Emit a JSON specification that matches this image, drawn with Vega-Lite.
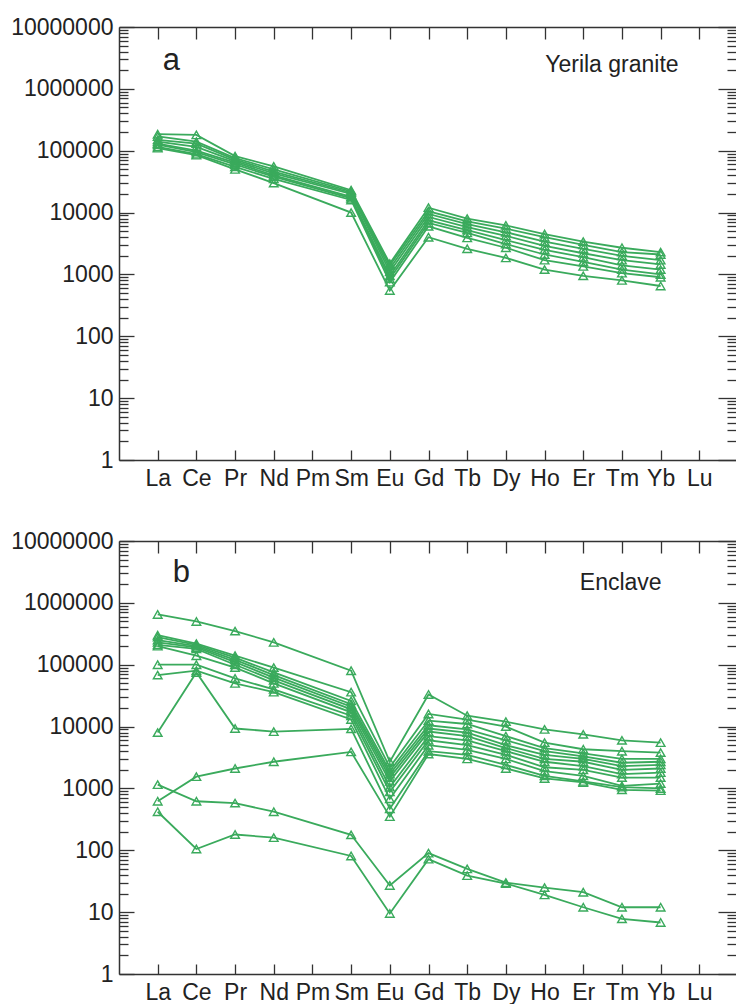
{
  "$schema": "https://vega.github.io/schema/vega-lite/v6.json",
  "autosize": {"type": "pad"},
  "padding": {"left": 10, "top": 16, "right": 0, "bottom": 0},
  "background": "white",
  "spacing": 40,
  "config": {
    "view": {"stroke": null},
    "font": "Liberation Sans",
    "axis": {"domainColor": "#333333", "domainWidth": 1.5, "tickColor": "#333333", "tickWidth": 1.3, "labelFont": "Liberation Sans", "labelFontSize": 23, "labelColor": "#222222", "grid": false, "title": null}
  },
  "datasets": {
    "a": [
      {"s":"a1","e":"La","v":185000},{"s":"a1","e":"Ce","v":180000},{"s":"a1","e":"Pr","v":82000},{"s":"a1","e":"Nd","v":56000},{"s":"a1","e":"Sm","v":23000},{"s":"a1","e":"Eu","v":1500},{"s":"a1","e":"Gd","v":12000},{"s":"a1","e":"Tb","v":8000},{"s":"a1","e":"Dy","v":6200},{"s":"a1","e":"Ho","v":4500},{"s":"a1","e":"Er","v":3400},{"s":"a1","e":"Tm","v":2700},{"s":"a1","e":"Yb","v":2300},
      {"s":"a2","e":"La","v":170000},{"s":"a2","e":"Ce","v":140000},{"s":"a2","e":"Pr","v":76000},{"s":"a2","e":"Nd","v":50000},{"s":"a2","e":"Sm","v":22000},{"s":"a2","e":"Eu","v":1400},{"s":"a2","e":"Gd","v":10500},{"s":"a2","e":"Tb","v":7200},{"s":"a2","e":"Dy","v":5500},{"s":"a2","e":"Ho","v":4000},{"s":"a2","e":"Er","v":3000},{"s":"a2","e":"Tm","v":2300},{"s":"a2","e":"Yb","v":2100},
      {"s":"a3","e":"La","v":150000},{"s":"a3","e":"Ce","v":130000},{"s":"a3","e":"Pr","v":72000},{"s":"a3","e":"Nd","v":46000},{"s":"a3","e":"Sm","v":21000},{"s":"a3","e":"Eu","v":1250},{"s":"a3","e":"Gd","v":9500},{"s":"a3","e":"Tb","v":6500},{"s":"a3","e":"Dy","v":4800},{"s":"a3","e":"Ho","v":3400},{"s":"a3","e":"Er","v":2600},{"s":"a3","e":"Tm","v":2000},{"s":"a3","e":"Yb","v":1700},
      {"s":"a4","e":"La","v":140000},{"s":"a4","e":"Ce","v":115000},{"s":"a4","e":"Pr","v":68000},{"s":"a4","e":"Nd","v":43000},{"s":"a4","e":"Sm","v":20000},{"s":"a4","e":"Eu","v":1100},{"s":"a4","e":"Gd","v":8500},{"s":"a4","e":"Tb","v":5800},{"s":"a4","e":"Dy","v":4200},{"s":"a4","e":"Ho","v":2900},{"s":"a4","e":"Er","v":2200},{"s":"a4","e":"Tm","v":1700},{"s":"a4","e":"Yb","v":1450},
      {"s":"a5","e":"La","v":130000},{"s":"a5","e":"Ce","v":100000},{"s":"a5","e":"Pr","v":64000},{"s":"a5","e":"Nd","v":40000},{"s":"a5","e":"Sm","v":18000},{"s":"a5","e":"Eu","v":950},{"s":"a5","e":"Gd","v":7500},{"s":"a5","e":"Tb","v":5200},{"s":"a5","e":"Dy","v":3600},{"s":"a5","e":"Ho","v":2500},{"s":"a5","e":"Er","v":1900},{"s":"a5","e":"Tm","v":1400},{"s":"a5","e":"Yb","v":1200},
      {"s":"a6","e":"La","v":125000},{"s":"a6","e":"Ce","v":95000},{"s":"a6","e":"Pr","v":60000},{"s":"a6","e":"Nd","v":38000},{"s":"a6","e":"Sm","v":17000},{"s":"a6","e":"Eu","v":850},{"s":"a6","e":"Gd","v":6800},{"s":"a6","e":"Tb","v":4700},{"s":"a6","e":"Dy","v":3100},{"s":"a6","e":"Ho","v":2100},{"s":"a6","e":"Er","v":1600},{"s":"a6","e":"Tm","v":1200},{"s":"a6","e":"Yb","v":1000},
      {"s":"a7","e":"La","v":115000},{"s":"a7","e":"Ce","v":88000},{"s":"a7","e":"Pr","v":55000},{"s":"a7","e":"Nd","v":35000},{"s":"a7","e":"Sm","v":16000},{"s":"a7","e":"Eu","v":750},{"s":"a7","e":"Gd","v":6000},{"s":"a7","e":"Tb","v":3900},{"s":"a7","e":"Dy","v":2700},{"s":"a7","e":"Ho","v":1700},{"s":"a7","e":"Er","v":1350},{"s":"a7","e":"Tm","v":1050},{"s":"a7","e":"Yb","v":900},
      {"s":"a8","e":"La","v":110000},{"s":"a8","e":"Ce","v":85000},{"s":"a8","e":"Pr","v":50000},{"s":"a8","e":"Nd","v":30000},{"s":"a8","e":"Sm","v":10000},{"s":"a8","e":"Eu","v":550},{"s":"a8","e":"Gd","v":4000},{"s":"a8","e":"Tb","v":2600},{"s":"a8","e":"Dy","v":1850},{"s":"a8","e":"Ho","v":1200},{"s":"a8","e":"Er","v":950},{"s":"a8","e":"Tm","v":800},{"s":"a8","e":"Yb","v":650}
    ],
    "b": [
      {"s":"b1","e":"La","v":650000},{"s":"b1","e":"Ce","v":500000},{"s":"b1","e":"Pr","v":350000},{"s":"b1","e":"Nd","v":230000},{"s":"b1","e":"Sm","v":80000},{"s":"b1","e":"Eu","v":2700},{"s":"b1","e":"Gd","v":33000},{"s":"b1","e":"Tb","v":15000},{"s":"b1","e":"Dy","v":12000},{"s":"b1","e":"Ho","v":9000},{"s":"b1","e":"Er","v":7500},{"s":"b1","e":"Tm","v":6000},{"s":"b1","e":"Yb","v":5500},
      {"s":"b2","e":"La","v":300000},{"s":"b2","e":"Ce","v":220000},{"s":"b2","e":"Pr","v":140000},{"s":"b2","e":"Nd","v":90000},{"s":"b2","e":"Sm","v":36000},{"s":"b2","e":"Eu","v":2200},{"s":"b2","e":"Gd","v":16000},{"s":"b2","e":"Tb","v":13000},{"s":"b2","e":"Dy","v":10000},{"s":"b2","e":"Ho","v":5500},{"s":"b2","e":"Er","v":4300},{"s":"b2","e":"Tm","v":4000},{"s":"b2","e":"Yb","v":3800},
      {"s":"b3","e":"La","v":280000},{"s":"b3","e":"Ce","v":210000},{"s":"b3","e":"Pr","v":130000},{"s":"b3","e":"Nd","v":75000},{"s":"b3","e":"Sm","v":26000},{"s":"b3","e":"Eu","v":1900},{"s":"b3","e":"Gd","v":12500},{"s":"b3","e":"Tb","v":11000},{"s":"b3","e":"Dy","v":7000},{"s":"b3","e":"Ho","v":4500},{"s":"b3","e":"Er","v":3700},{"s":"b3","e":"Tm","v":3000},{"s":"b3","e":"Yb","v":3000},
      {"s":"b4","e":"La","v":250000},{"s":"b4","e":"Ce","v":200000},{"s":"b4","e":"Pr","v":120000},{"s":"b4","e":"Nd","v":68000},{"s":"b4","e":"Sm","v":23000},{"s":"b4","e":"Eu","v":1700},{"s":"b4","e":"Gd","v":10500},{"s":"b4","e":"Tb","v":9000},{"s":"b4","e":"Dy","v":6000},{"s":"b4","e":"Ho","v":4000},{"s":"b4","e":"Er","v":3300},{"s":"b4","e":"Tm","v":2600},{"s":"b4","e":"Yb","v":2700},
      {"s":"b5","e":"La","v":230000},{"s":"b5","e":"Ce","v":190000},{"s":"b5","e":"Pr","v":110000},{"s":"b5","e":"Nd","v":62000},{"s":"b5","e":"Sm","v":21000},{"s":"b5","e":"Eu","v":1500},{"s":"b5","e":"Gd","v":9300},{"s":"b5","e":"Tb","v":8000},{"s":"b5","e":"Dy","v":5000},{"s":"b5","e":"Ho","v":3500},{"s":"b5","e":"Er","v":3000},{"s":"b5","e":"Tm","v":2300},{"s":"b5","e":"Yb","v":2400},
      {"s":"b6","e":"La","v":210000},{"s":"b6","e":"Ce","v":180000},{"s":"b6","e":"Pr","v":100000},{"s":"b6","e":"Nd","v":56000},{"s":"b6","e":"Sm","v":19000},{"s":"b6","e":"Eu","v":1300},{"s":"b6","e":"Gd","v":8300},{"s":"b6","e":"Tb","v":7000},{"s":"b6","e":"Dy","v":4500},{"s":"b6","e":"Ho","v":3000},{"s":"b6","e":"Er","v":2700},{"s":"b6","e":"Tm","v":2000},{"s":"b6","e":"Yb","v":2100},
      {"s":"b7","e":"La","v":200000},{"s":"b7","e":"Ce","v":140000},{"s":"b7","e":"Pr","v":90000},{"s":"b7","e":"Nd","v":50000},{"s":"b7","e":"Sm","v":17000},{"s":"b7","e":"Eu","v":1050},{"s":"b7","e":"Gd","v":7000},{"s":"b7","e":"Tb","v":6000},{"s":"b7","e":"Dy","v":4000},{"s":"b7","e":"Ho","v":2700},{"s":"b7","e":"Er","v":2300},{"s":"b7","e":"Tm","v":1700},{"s":"b7","e":"Yb","v":1800},
      {"s":"b8","e":"La","v":100000},{"s":"b8","e":"Ce","v":100000},{"s":"b8","e":"Pr","v":60000},{"s":"b8","e":"Nd","v":40000},{"s":"b8","e":"Sm","v":15000},{"s":"b8","e":"Eu","v":880},{"s":"b8","e":"Gd","v":6000},{"s":"b8","e":"Tb","v":5000},{"s":"b8","e":"Dy","v":3500},{"s":"b8","e":"Ho","v":2200},{"s":"b8","e":"Er","v":2000},{"s":"b8","e":"Tm","v":1500},{"s":"b8","e":"Yb","v":1500},
      {"s":"b9","e":"La","v":68000},{"s":"b9","e":"Ce","v":80000},{"s":"b9","e":"Pr","v":50000},{"s":"b9","e":"Nd","v":36000},{"s":"b9","e":"Sm","v":13000},{"s":"b9","e":"Eu","v":680},{"s":"b9","e":"Gd","v":5000},{"s":"b9","e":"Tb","v":4200},{"s":"b9","e":"Dy","v":3000},{"s":"b9","e":"Ho","v":1900},{"s":"b9","e":"Er","v":1600},{"s":"b9","e":"Tm","v":1100},{"s":"b9","e":"Yb","v":1200},
      {"s":"b10","e":"La","v":8000},{"s":"b10","e":"Ce","v":75000},{"s":"b10","e":"Pr","v":9300},{"s":"b10","e":"Nd","v":8300},{"s":"b10","e":"Sm","v":9200},{"s":"b10","e":"Eu","v":470},{"s":"b10","e":"Gd","v":4000},{"s":"b10","e":"Tb","v":3500},{"s":"b10","e":"Dy","v":2400},{"s":"b10","e":"Ho","v":1600},{"s":"b10","e":"Er","v":1300},{"s":"b10","e":"Tm","v":1050},{"s":"b10","e":"Yb","v":1000},
      {"s":"b11","e":"La","v":620},{"s":"b11","e":"Ce","v":1550},{"s":"b11","e":"Pr","v":2100},{"s":"b11","e":"Nd","v":2700},{"s":"b11","e":"Sm","v":3900},{"s":"b11","e":"Eu","v":350},{"s":"b11","e":"Gd","v":3600},{"s":"b11","e":"Tb","v":3000},{"s":"b11","e":"Dy","v":2100},{"s":"b11","e":"Ho","v":1450},{"s":"b11","e":"Er","v":1250},{"s":"b11","e":"Tm","v":950},{"s":"b11","e":"Yb","v":920},
      {"s":"b12","e":"La","v":1150},{"s":"b12","e":"Ce","v":620},{"s":"b12","e":"Pr","v":580},{"s":"b12","e":"Nd","v":420},{"s":"b12","e":"Sm","v":178},{"s":"b12","e":"Eu","v":27},{"s":"b12","e":"Gd","v":90},{"s":"b12","e":"Tb","v":50},{"s":"b12","e":"Dy","v":30},{"s":"b12","e":"Ho","v":25},{"s":"b12","e":"Er","v":21},{"s":"b12","e":"Tm","v":12},{"s":"b12","e":"Yb","v":12},
      {"s":"b13","e":"La","v":420},{"s":"b13","e":"Ce","v":105},{"s":"b13","e":"Pr","v":180},{"s":"b13","e":"Nd","v":160},{"s":"b13","e":"Sm","v":81},{"s":"b13","e":"Eu","v":9.5},{"s":"b13","e":"Gd","v":72},{"s":"b13","e":"Tb","v":39},{"s":"b13","e":"Dy","v":29},{"s":"b13","e":"Ho","v":19},{"s":"b13","e":"Er","v":12},{"s":"b13","e":"Tm","v":7.8},{"s":"b13","e":"Yb","v":6.8}
    ]
  },
  "vconcat": [
    {
      "width": 619,
      "height": 433,
      "layer": [
        {
          "data": {"name": "a"},
          "mark": {"type": "line", "color": "#3aaa5c", "strokeWidth": 1.8, "point": {"shape": "triangle-up", "filled": false, "size": 75, "strokeWidth": 1.4, "color": "#3aaa5c"}},
          "encoding": {
            "x": {"field": "e", "type": "ordinal", "sort": ["La","Ce","Pr","Nd","Pm","Sm","Eu","Gd","Tb","Dy","Ho","Er","Tm","Yb","Lu"], "scale": {"type": "point", "domain": ["La","Ce","Pr","Nd","Pm","Sm","Eu","Gd","Tb","Dy","Ho","Er","Tm","Yb","Lu"], "padding": 1}, "axis": {"orient": "bottom", "labelAngle": 0, "tickSize": -10, "labelPadding": 17}},
            "y": {"field": "v", "type": "quantitative", "scale": {"type": "log", "domain": [1, 10000000], "nice": false}, "axis": {"orient": "left", "values": [1,2,3,4,5,6,7,8,9,10,20,30,40,50,60,70,80,90,100,200,300,400,500,600,700,800,900,1000,2000,3000,4000,5000,6000,7000,8000,9000,10000,20000,30000,40000,50000,60000,70000,80000,90000,100000,200000,300000,400000,500000,600000,700000,800000,900000,1000000,2000000,3000000,4000000,5000000,6000000,7000000,8000000,9000000,10000000], "labelExpr": "abs(log(datum.value)/LN10 - round(log(datum.value)/LN10)) < 0.001 ? format(datum.value, 'd') : ''", "tickSize": {"condition": {"test": "abs(log(datum.value)/LN10 - round(log(datum.value)/LN10)) < 0.001", "value": -15}, "value": -9}, "labelPadding": 21}},
            "detail": {"field": "s"}
          }
        },
        {
          "data": {"values": [{"label": "a"}]},
          "mark": {"type": "text", "fontSize": 31, "align": "left", "baseline": "alphabetic", "dx": 5, "color": "#222222", "font": "Liberation Sans"},
          "encoding": {
            "x": {"datum": "La", "type": "ordinal", "scale": {"type": "point", "domain": ["La","Ce","Pr","Nd","Pm","Sm","Eu","Gd","Tb","Dy","Ho","Er","Tm","Yb","Lu"], "padding": 1}, "axis": {"orient": "top", "labels": false, "tickSize": -12}},
            "y": {"datum": 2000000, "type": "quantitative", "scale": {"type": "log", "domain": [1, 10000000], "nice": false}, "axis": {"orient": "right", "labels": false, "values": [1,2,3,4,5,6,7,8,9,10,20,30,40,50,60,70,80,90,100,200,300,400,500,600,700,800,900,1000,2000,3000,4000,5000,6000,7000,8000,9000,10000,20000,30000,40000,50000,60000,70000,80000,90000,100000,200000,300000,400000,500000,600000,700000,800000,900000,1000000,2000000,3000000,4000000,5000000,6000000,7000000,8000000,9000000,10000000], "tickSize": {"condition": {"test": "abs(log(datum.value)/LN10 - round(log(datum.value)/LN10)) < 0.001", "value": -20}, "value": -11}}},
            "text": {"field": "label"}
          }
        },
        {
          "data": {"values": [{"label": "Yerila granite"}]},
          "mark": {"type": "text", "fontSize": 23, "align": "right", "baseline": "alphabetic", "dx": 18, "color": "#222222", "font": "Liberation Sans"},
          "encoding": {
            "x": {"datum": "Yb", "type": "ordinal", "scale": {"type": "point", "domain": ["La","Ce","Pr","Nd","Pm","Sm","Eu","Gd","Tb","Dy","Ho","Er","Tm","Yb","Lu"], "padding": 1}, "axis": null},
            "y": {"datum": 1900000, "type": "quantitative", "scale": {"type": "log", "domain": [1, 10000000], "nice": false}, "axis": null},
            "text": {"field": "label"}
          }
        }
      ],
      "resolve": {"axis": {"x": "independent", "y": "independent"}}
    },
    {
      "width": 619,
      "height": 433,
      "layer": [
        {
          "data": {"name": "b"},
          "mark": {"type": "line", "color": "#3aaa5c", "strokeWidth": 1.8, "point": {"shape": "triangle-up", "filled": false, "size": 75, "strokeWidth": 1.4, "color": "#3aaa5c"}},
          "encoding": {
            "x": {"field": "e", "type": "ordinal", "sort": ["La","Ce","Pr","Nd","Pm","Sm","Eu","Gd","Tb","Dy","Ho","Er","Tm","Yb","Lu"], "scale": {"type": "point", "domain": ["La","Ce","Pr","Nd","Pm","Sm","Eu","Gd","Tb","Dy","Ho","Er","Tm","Yb","Lu"], "padding": 1}, "axis": {"orient": "bottom", "labelAngle": 0, "tickSize": -10, "labelPadding": 17}},
            "y": {"field": "v", "type": "quantitative", "scale": {"type": "log", "domain": [1, 10000000], "nice": false}, "axis": {"orient": "left", "values": [1,2,3,4,5,6,7,8,9,10,20,30,40,50,60,70,80,90,100,200,300,400,500,600,700,800,900,1000,2000,3000,4000,5000,6000,7000,8000,9000,10000,20000,30000,40000,50000,60000,70000,80000,90000,100000,200000,300000,400000,500000,600000,700000,800000,900000,1000000,2000000,3000000,4000000,5000000,6000000,7000000,8000000,9000000,10000000], "labelExpr": "abs(log(datum.value)/LN10 - round(log(datum.value)/LN10)) < 0.001 ? format(datum.value, 'd') : ''", "tickSize": {"condition": {"test": "abs(log(datum.value)/LN10 - round(log(datum.value)/LN10)) < 0.001", "value": -15}, "value": -9}, "labelPadding": 21}},
            "detail": {"field": "s"}
          }
        },
        {
          "data": {"values": [{"label": "b"}]},
          "mark": {"type": "text", "fontSize": 31, "align": "left", "baseline": "alphabetic", "dx": 15, "color": "#222222", "font": "Liberation Sans"},
          "encoding": {
            "x": {"datum": "La", "type": "ordinal", "scale": {"type": "point", "domain": ["La","Ce","Pr","Nd","Pm","Sm","Eu","Gd","Tb","Dy","Ho","Er","Tm","Yb","Lu"], "padding": 1}, "axis": {"orient": "top", "labels": false, "tickSize": -12}},
            "y": {"datum": 2200000, "type": "quantitative", "scale": {"type": "log", "domain": [1, 10000000], "nice": false}, "axis": {"orient": "right", "labels": false, "values": [1,2,3,4,5,6,7,8,9,10,20,30,40,50,60,70,80,90,100,200,300,400,500,600,700,800,900,1000,2000,3000,4000,5000,6000,7000,8000,9000,10000,20000,30000,40000,50000,60000,70000,80000,90000,100000,200000,300000,400000,500000,600000,700000,800000,900000,1000000,2000000,3000000,4000000,5000000,6000000,7000000,8000000,9000000,10000000], "tickSize": {"condition": {"test": "abs(log(datum.value)/LN10 - round(log(datum.value)/LN10)) < 0.001", "value": -20}, "value": -11}}},
            "text": {"field": "label"}
          }
        },
        {
          "data": {"values": [{"label": "Enclave"}]},
          "mark": {"type": "text", "fontSize": 23, "align": "right", "baseline": "alphabetic", "dx": 1, "color": "#222222", "font": "Liberation Sans"},
          "encoding": {
            "x": {"datum": "Yb", "type": "ordinal", "scale": {"type": "point", "domain": ["La","Ce","Pr","Nd","Pm","Sm","Eu","Gd","Tb","Dy","Ho","Er","Tm","Yb","Lu"], "padding": 1}, "axis": null},
            "y": {"datum": 1640000, "type": "quantitative", "scale": {"type": "log", "domain": [1, 10000000], "nice": false}, "axis": null},
            "text": {"field": "label"}
          }
        }
      ],
      "resolve": {"axis": {"x": "independent", "y": "independent"}}
    }
  ]
}
